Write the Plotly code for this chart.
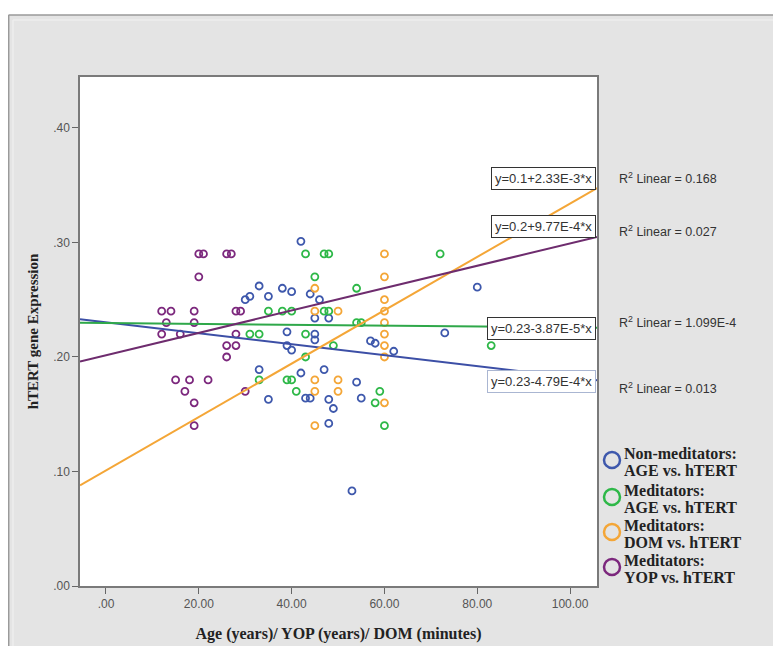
import numpy as np
import plotly.graph_objects as go

# ---------------- data ----------------
nonmed_age_x = [42, 30, 31, 33, 35, 38, 40, 44, 46, 45, 48, 39, 45, 45, 39, 40, 33, 42, 47, 35,
                43, 44, 48, 49, 48, 80, 73, 57, 58, 62, 54, 55, 53]
nonmed_age_y = [0.301, 0.250, 0.253, 0.262, 0.253, 0.260, 0.257, 0.255, 0.250, 0.234, 0.234, 0.222,
                0.220, 0.215, 0.210, 0.206, 0.189, 0.186, 0.189, 0.163, 0.164, 0.164, 0.163, 0.155,
                0.142, 0.261, 0.221, 0.214, 0.212, 0.205, 0.178, 0.164, 0.083]

med_age_x = [43, 47, 48, 72, 45, 54, 35, 38, 40, 47, 48, 54, 55, 31, 33, 43, 49, 83, 43, 33, 39, 40,
             41, 59, 58, 60]
med_age_y = [0.29, 0.29, 0.29, 0.29, 0.27, 0.26, 0.24, 0.24, 0.24, 0.24, 0.24, 0.23, 0.23, 0.22, 0.22,
             0.22, 0.21, 0.21, 0.20, 0.18, 0.18, 0.18, 0.17, 0.17, 0.16, 0.14]

med_dom_x = [45, 45, 45, 45, 45, 50, 50, 50, 60, 60, 60, 60, 60, 60, 60, 60, 60]
med_dom_y = [0.26, 0.24, 0.18, 0.17, 0.14, 0.24, 0.18, 0.17, 0.29, 0.27, 0.25, 0.24, 0.23, 0.22, 0.21,
             0.20, 0.16]

med_yop_x = [20, 21, 26, 27, 20, 12, 14, 19, 28, 29, 13, 19, 12, 16, 28, 26, 28, 26, 15, 18, 22, 17,
             19, 19, 30]
med_yop_y = [0.29, 0.29, 0.29, 0.29, 0.27, 0.24, 0.24, 0.24, 0.24, 0.24, 0.23, 0.23, 0.22, 0.22, 0.22,
             0.21, 0.21, 0.20, 0.18, 0.18, 0.18, 0.17, 0.16, 0.14, 0.17]

series_group = ["Non-meditators:", "Meditators:", "Meditators:", "Meditators:"]
series_pair = ["AGE vs. hTERT", "AGE vs. hTERT", "DOM vs. hTERT", "YOP vs. hTERT"]
series_x = [nonmed_age_x, med_age_x, med_dom_x, med_yop_x]
series_y = [nonmed_age_y, med_age_y, med_dom_y, med_yop_y]

# linear fit lines (intercept, slope) as shown in the chart
fit_intercepts = [0.2303, 0.2297, 0.101, 0.2015]
fit_slopes = [-4.79e-4, -3.87e-5, 2.33e-3, 9.77e-4]
fit_labels = ["y=0.23-4.79E-4*x", "y=0.23-3.87E-5*x", "y=0.1+2.33E-3*x", "y=0.2+9.77E-4*x"]
r2_labels = ["R<sup>2</sup> Linear = 0.013", "R<sup>2</sup> Linear = 1.099E-4",
             "R<sup>2</sup> Linear = 0.168", "R<sup>2</sup> Linear = 0.027"]

x_tickvals = [0, 20, 40, 60, 80, 100]
x_ticktext = [".00", "20.00", "40.00", "60.00", "80.00", "100.00"]
y_tickvals = [0, 0.1, 0.2, 0.3, 0.4]
y_ticktext = [".00", ".10", ".20", ".30", ".40"]
x_range = [-5.6, 105.8]
y_range = [0, 0.4445]

# ---------------- style / layout (screen pixel positions) ----------------
marker_colors = ["#3E58AC", "#2EB848", "#F4A637", "#7C287D"]
line_colors = ["#3C4FA6", "#2FA84A", "#F4A637", "#6E2C6E"]
label_y_px = [381.5, 328, 178.5, 227]      # equation box centres
r2_y_px = [388, 322, 178, 231]
box_borders = ["#AAB6D2", "#333333", "#333333", "#333333"]
legend_y_px = [460, 497, 532, 567]

OFF = 8                      # page body margin in the browser
SW, SH = 781, 646            # screen size
W, H = SW - OFF, SH - OFF    # figure size
L, R, T, B = 80, 597, 77, 586  # plot area in screen px


def px2paper_x(px):
    return (px - L) / (R - L)


def px2paper_y(py):
    return (B - py) / (B - T)


fig = go.Figure()

for xs, ys, c in zip(series_x, series_y, marker_colors):
    fig.add_trace(go.Scatter(
        x=xs, y=ys, mode="markers", showlegend=False, hoverinfo="skip",
        marker=dict(symbol="circle-open", size=7, color=c, line=dict(width=1.8, color=c)),
    ))

xl = np.array(x_range)
for b0, b1, c in zip(fit_intercepts, fit_slopes, line_colors):
    fig.add_trace(go.Scatter(
        x=xl, y=b0 + b1 * xl, mode="lines", showlegend=False, hoverinfo="skip",
        line=dict(color=c, width=2),
    ))

annotations = []
for lab, ypx, bc in zip(fit_labels, label_y_px, box_borders):
    annotations.append(dict(
        xref="paper", yref="paper", x=px2paper_x(595.5), y=px2paper_y(ypx),
        xanchor="right", yanchor="middle", text=lab, showarrow=False,
        font=dict(family="Liberation Sans, Arial, sans-serif", size=13, color="#333333"),
        bgcolor="white", bordercolor=bc, borderwidth=1, borderpad=3,
    ))
for lab, ypx in zip(r2_labels, r2_y_px):
    annotations.append(dict(
        xref="paper", yref="paper", x=px2paper_x(617), y=px2paper_y(ypx),
        xanchor="left", yanchor="middle", text=lab, showarrow=False,
        font=dict(family="Liberation Sans, Arial, sans-serif", size=12.5, color="#333333"),
    ))

shapes = [
    # white strip above the outer frame
    dict(type="rect", xref="paper", yref="paper", x0=px2paper_x(0), x1=px2paper_x(SW + 10),
         y0=px2paper_y(15), y1=px2paper_y(0), fillcolor="white", line=dict(width=0), layer="below"),
    # outer frame
    dict(type="line", xref="paper", yref="paper", x0=px2paper_x(8.5), x1=px2paper_x(SW + 10),
         y0=px2paper_y(15), y1=px2paper_y(15), line=dict(color="#9A9A9A", width=1.5)),
    dict(type="line", xref="paper", yref="paper", x0=px2paper_x(8.7), x1=px2paper_x(8.7),
         y0=px2paper_y(15), y1=px2paper_y(SH + 10), line=dict(color="#9A9A9A", width=1.5)),
    dict(type="line", xref="paper", yref="paper", x0=px2paper_x(13), x1=px2paper_x(SW + 10),
         y0=px2paper_y(20), y1=px2paper_y(20), line=dict(color="#EEEEEE", width=1.5)),
    dict(type="line", xref="paper", yref="paper", x0=px2paper_x(13), x1=px2paper_x(13),
         y0=px2paper_y(20), y1=px2paper_y(SH + 10), line=dict(color="#EEEEEE", width=1.5)),
]

# custom legend (symbols + two-line labels)
legend_font = dict(family="Liberation Serif, Times New Roman, serif", size=16,
                   color="#222222", weight="bold")
for g, p, c, ypx in zip(series_group, series_pair, marker_colors, legend_y_px):
    shapes.append(dict(
        type="circle", xref="paper", yref="paper", xsizemode="pixel", ysizemode="pixel",
        xanchor=px2paper_x(612), yanchor=px2paper_y(ypx), x0=-8, x1=8, y0=-8, y1=8,
        line=dict(color=c, width=2.5), fillcolor="rgba(0,0,0,0)",
    ))
    for txt, dy in ((g, -6.5), (p, 10)):
        annotations.append(dict(
            xref="paper", yref="paper", x=px2paper_x(622), y=px2paper_y(ypx + dy),
            xanchor="left", yanchor="middle", align="left", text=txt, showarrow=False,
            font=legend_font,
        ))

axis_common = dict(
    showgrid=False, zeroline=False, showline=True, mirror=True, linecolor="#7A7A7A", linewidth=1.5,
    ticks="outside", ticklen=6, tickcolor="#666666", tickwidth=1, automargin=False,
    tickfont=dict(family="Liberation Sans, Arial, sans-serif", size=12, color="#555555"),
)

fig.update_layout(
    width=W, height=H,
    margin=dict(l=L - OFF, r=SW - R, t=T - OFF, b=SH - B),
    paper_bgcolor="#E4E4E4", plot_bgcolor="white",
    showlegend=False,
    xaxis=dict(range=x_range, tickvals=x_tickvals, ticktext=x_ticktext,
               title=dict(text="Age (years)/ YOP (years)/ DOM (minutes)", standoff=18,
                          font=dict(family="Liberation Serif, Times New Roman, serif", size=16,
                                    color="#222222", weight="bold")),
               **axis_common),
    yaxis=dict(range=y_range, tickvals=y_tickvals, ticktext=y_ticktext,
               title=dict(text="hTERT gene Expression", standoff=11,
                          font=dict(family="Liberation Serif, Times New Roman, serif", size=15,
                                    color="#222222", weight="bold")),
               **axis_common),
    annotations=annotations,
    shapes=shapes,
)

fig.write_html("out.html")
